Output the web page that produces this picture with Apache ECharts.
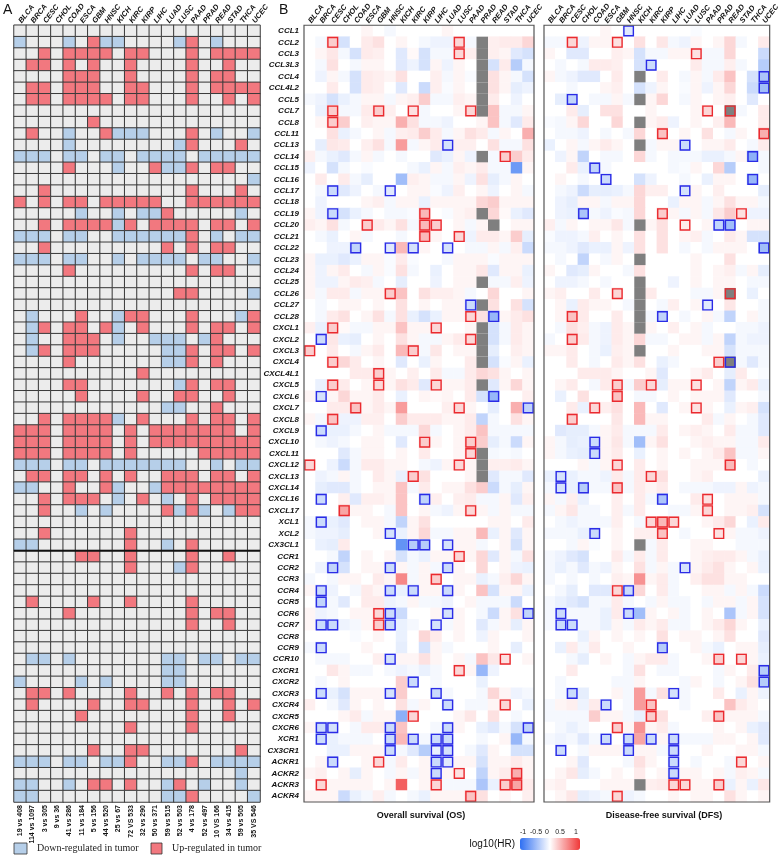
<!DOCTYPE html>
<html><head><meta charset="utf-8">
<script src="https://cdn.jsdelivr.net/npm/echarts@6/dist/echarts.min.js"></script>
<style>html,body{margin:0;padding:0;background:#fff}#c{width:782px;height:855px}</style>
</head><body><div id="c"></div><script>
const cancers = ['BLCA','BRCA','CESC','CHOL','COAD','ESCA','GBM','HNSC','KICH','KIRC','KIRP','LIHC','LUAD','LUSC','PAAD','PRAD','READ','STAD','THCA','UCEC'];
const sampleSizes = ['19 vs 408','114 vs 1097','3 vs 305','9 vs 36','41 vs 286','11 vs 184','5 vs 156','44 vs 520','25 vs 67','72 VS 533','32 vs 290','50 vs 371','59 vs 515','52 vs 503','4 vs 178','52 vs 497','10 VS 166','34 vs 415','59 vs 505','35 VS 546'];
const genes = ['CCL1','CCL2','CCL3','CCL3L3','CCL4','CCL4L2','CCL5','CCL7','CCL8','CCL11','CCL13','CCL14','CCL15','CCL16','CCL17','CCL18','CCL19','CCL20','CCL21','CCL22','CCL23','CCL24','CCL25','CCL26','CCL27','CCL28','CXCL1','CXCL2','CXCL3','CXCL4','CXCL4L1','CXCL5','CXCL6','CXCL7','CXCL8','CXCL9','CXCL10','CXCL11','CXCL12','CXCL13','CXCL14','CXCL16','CXCL17','XCL1','XCL2','CX3CL1','CCR1','CCR2','CCR3','CCR4','CCR5','CCR6','CCR7','CCR8','CCR9','CCR10','CXCR1','CXCR2','CXCR3','CXCR4','CXCR5','CXCR6','XCR1','CX3CR1','ACKR1','ACKR2','ACKR3','ACKR4'];
const colorbarTicks = ['-1','-0.5','0','0.5','1'];

// Panel A: -1 down-regulated, 0 no change, 1 up-regulated (rows = genes, cols = cancers)
const exprA = [
[0,0,0,0,0,0,0,0,0,0,0,0,0,0,0,0,0,0,0,0],
[-1,0,0,0,-1,0,1,-1,-1,0,0,0,0,-1,1,0,-1,0,0,0],
[0,0,1,0,1,1,1,1,0,1,1,0,0,0,1,0,1,1,1,1],
[0,1,1,0,1,0,1,0,0,1,0,0,0,0,1,0,0,1,0,0],
[0,0,0,0,1,1,1,0,0,1,0,0,0,0,1,0,1,1,0,0],
[0,1,1,0,1,1,1,0,0,1,1,0,0,0,1,0,1,1,1,1],
[0,1,1,0,1,1,1,1,0,1,1,0,0,0,1,0,0,1,0,1],
[0,0,0,0,0,0,0,0,0,0,0,0,0,0,0,0,0,0,0,0],
[0,0,0,0,0,0,1,0,0,0,0,0,0,0,0,0,0,0,0,0],
[0,1,0,0,-1,0,0,1,-1,-1,-1,0,0,0,1,0,-1,0,0,-1],
[0,0,0,0,-1,0,0,0,0,0,0,0,0,-1,1,0,0,0,1,0],
[-1,-1,-1,0,-1,-1,0,-1,-1,0,-1,-1,-1,-1,0,-1,-1,-1,-1,-1],
[0,0,0,0,1,0,0,0,-1,0,0,1,-1,-1,1,0,1,1,0,0],
[0,0,0,0,0,0,0,0,0,0,0,0,0,0,0,0,0,0,0,-1],
[0,0,1,0,0,0,0,0,0,0,0,0,0,0,1,0,0,0,1,0],
[1,0,1,0,1,1,0,1,1,1,1,1,0,0,1,1,1,1,1,1],
[0,0,0,0,0,-1,0,0,-1,0,-1,-1,1,0,0,0,0,0,-1,0],
[0,0,1,0,1,1,1,1,-1,1,0,1,1,1,1,0,1,1,0,1],
[-1,-1,-1,0,-1,-1,0,0,-1,-1,-1,-1,-1,-1,1,0,-1,0,-1,-1],
[0,0,1,0,0,0,0,0,0,0,0,0,1,0,1,0,1,1,0,0],
[-1,-1,-1,0,-1,-1,0,0,-1,0,-1,-1,-1,-1,0,-1,-1,0,0,-1],
[0,0,0,0,1,0,0,0,0,0,0,0,0,0,1,0,1,1,0,0],
[0,0,0,0,0,0,0,0,0,0,0,0,0,0,0,0,0,0,0,0],
[0,0,0,0,0,0,0,0,0,0,0,0,0,1,1,0,0,0,0,-1],
[0,0,0,0,0,0,0,0,0,0,0,0,0,0,0,0,0,0,0,0],
[0,-1,0,0,0,1,0,0,-1,1,1,0,0,0,1,0,0,0,-1,1],
[0,-1,1,0,1,1,0,1,-1,0,1,0,0,0,1,0,1,1,0,1],
[0,-1,0,0,1,1,1,0,-1,0,0,-1,-1,-1,0,-1,1,0,0,0],
[0,-1,1,0,1,1,1,0,0,0,0,0,-1,-1,1,0,1,1,0,1],
[0,0,0,0,1,0,0,0,0,0,0,0,-1,-1,1,0,1,0,0,0],
[0,0,0,0,0,0,0,0,0,0,1,0,0,0,0,0,0,0,0,0],
[0,0,0,0,1,1,0,0,0,0,0,0,0,-1,1,0,1,1,0,0],
[0,0,0,0,0,1,0,0,0,0,1,0,0,1,1,0,0,1,0,0],
[0,0,0,0,0,0,0,0,0,0,0,0,-1,-1,0,0,1,0,0,0],
[0,0,1,0,1,1,1,1,-1,0,1,0,0,0,1,0,1,1,0,1],
[1,1,1,0,1,1,1,1,0,1,0,1,1,1,1,1,1,1,0,1],
[1,1,1,0,1,1,1,1,0,1,0,1,1,1,1,1,1,1,1,1],
[1,1,1,0,1,1,1,1,0,1,0,0,0,0,0,1,1,1,1,1],
[-1,-1,-1,0,-1,-1,0,-1,-1,-1,-1,-1,-1,-1,0,0,-1,0,-1,-1],
[0,1,1,0,1,1,0,1,0,1,0,0,1,1,1,0,1,1,0,1],
[-1,-1,0,0,1,0,0,1,-1,0,0,-1,1,1,1,1,1,1,1,1],
[0,0,1,0,1,1,1,0,-1,0,1,0,-1,0,1,0,1,1,1,1],
[0,0,1,0,0,-1,0,-1,0,0,0,0,1,-1,1,-1,0,-1,1,1],
[0,0,0,0,0,0,0,0,0,0,0,0,0,0,0,0,0,0,0,0],
[0,0,1,0,0,0,0,0,0,1,0,0,0,0,0,0,0,0,0,0],
[-1,-1,0,0,0,0,0,0,0,1,0,0,-1,0,1,0,0,0,0,0],
[0,0,0,0,0,1,1,0,0,1,0,0,0,0,1,0,0,1,0,0],
[0,0,0,0,0,0,0,0,0,1,0,0,0,-1,1,0,0,0,0,0],
[0,0,0,0,0,0,0,0,0,0,0,0,0,0,0,0,0,0,0,0],
[0,0,0,0,0,0,0,0,0,0,0,0,0,0,0,0,0,0,0,0],
[0,1,0,0,0,0,1,0,0,1,0,0,0,0,1,0,0,0,0,0],
[0,0,0,0,1,0,0,0,0,0,0,0,0,0,1,0,1,1,0,0],
[0,0,0,0,0,0,0,0,0,0,0,0,0,0,1,0,0,1,0,0],
[0,0,0,0,0,0,0,0,0,0,0,0,0,0,0,0,0,0,0,0],
[0,0,0,0,0,0,0,0,0,0,0,0,0,0,0,0,0,0,0,0],
[0,-1,-1,0,-1,0,0,0,0,0,0,0,-1,-1,0,-1,-1,0,-1,-1],
[0,0,0,0,0,0,0,0,0,0,0,0,-1,-1,0,0,0,0,0,0],
[-1,0,0,0,0,-1,0,-1,0,0,0,0,-1,-1,0,0,0,0,0,0],
[0,1,1,0,1,0,0,0,0,1,0,0,1,0,1,0,1,1,0,0],
[0,1,0,0,0,0,1,0,0,1,1,0,0,0,1,0,0,1,0,1],
[0,0,0,0,0,1,0,0,0,0,0,0,0,0,1,0,0,1,0,0],
[0,0,0,0,0,0,0,0,0,1,0,0,0,0,1,0,0,0,0,0],
[0,0,0,0,0,0,0,0,0,0,0,0,0,0,0,0,0,0,0,0],
[0,0,0,0,0,0,1,0,0,1,1,0,0,0,0,0,0,0,1,0],
[-1,-1,-1,0,-1,-1,0,-1,-1,1,0,0,-1,-1,1,0,-1,-1,-1,-1],
[0,0,0,0,0,0,0,0,0,0,0,0,0,0,0,0,0,0,-1,0],
[-1,-1,0,0,-1,0,1,1,0,1,0,0,-1,1,0,-1,0,0,-1,0],
[-1,-1,0,0,0,0,0,0,0,0,0,0,-1,-1,1,0,0,0,0,-1]
];

// Panel B: log10(HR), null = not available
const osHR = [
[0,0,0,0,0,.05,0,-.05,0,0,0,0,.05,0,0,0,0,0,0,0],
[0,-.05,.25,-.2,0,.1,.15,0,.05,0,-.05,-.08,-.08,.2,-.05,null,.08,.1,.1,.2],
[0,.05,.12,-.05,-.2,.1,.08,0,-.15,.03,-.2,-.05,-.05,.2,.08,null,.08,.05,-.15,-.2],
[0,-.05,.15,0,-.05,.05,.05,0,-.15,-.08,-.2,.05,-.08,.05,0,null,-.2,.1,-.35,-.05],
[0,-.08,.05,-.05,-.2,.1,.08,.05,.15,0,0,.08,-.05,.05,-.03,null,.15,.05,-.05,-.2],
[0,0,.1,0,-.2,.1,.08,0,-.15,0,-.25,.08,-.03,.05,0,null,.15,.05,-.12,-.08],
[-.05,-.08,-.2,-.1,-.05,.05,.05,-.05,.05,.08,.25,-.05,-.05,.08,.05,null,.1,0,-.08,0],
[0,-.1,.25,-.05,-.05,.1,.25,.08,0,.15,-.05,0,0,.05,.2,null,.3,-.05,-.05,.05],
[0,.05,.25,.25,0,.08,.05,.05,.4,.15,-.05,-.05,-.08,0,0,.05,.3,-.05,-.15,.1],
[0,0,.15,-.1,-.05,0,.05,-.05,.08,.1,.25,.1,-.05,.05,.15,.1,-.05,.05,0,.4],
[0,-.12,.12,.1,0,.08,.15,-.05,.5,-.05,.05,.1,-.2,.08,.08,0,.15,-.05,-.05,.15],
[.08,-.05,-.1,-.15,-.05,.05,-.05,0,-.05,0,0,-.15,-.1,.05,-.08,null,-.05,.25,.25,.1],
[-.08,0,-.2,-.05,0,-.03,0,0,0,-.05,-.1,.05,-.05,.08,.05,.1,-.05,-.05,-.7,.05],
[0,.1,0,.1,-.05,-.12,0,0,-.45,.08,.05,-.05,-.05,.05,-.08,.15,-.12,-.05,.05,0],
[0,-.05,-.25,-.15,-.08,0,-.05,-.15,0,.05,.05,-.03,-.08,.08,0,.05,-.08,0,.05,-.05],
[0,-.08,0,0,0,.05,.08,-.05,.05,.05,-.1,.05,.05,.05,.05,.2,.25,.05,.05,.05],
[.05,-.08,-.25,-.2,-.1,-.05,0,-.05,-.05,-.03,.35,0,-.03,.05,.08,null,.2,.03,-.1,-.15],
[.08,.05,.15,-.05,0,.25,.1,.05,.15,-.05,.35,.25,0,.05,-.05,.05,null,0,.05,.05],
[0,-.05,-.1,0,.05,-.05,0,0,-.05,0,.35,.05,0,.2,-.08,.1,.1,.05,.25,-.12],
[0,0,-.08,-.08,-.3,0,0,-.15,.35,-.2,.05,0,-.2,0,-.05,-.05,.05,-.05,.08,-.25],
[.05,-.1,-.1,-.15,-.1,.05,.05,-.03,.1,-.03,0,0,-.05,.05,.05,.05,-.03,.05,.05,.05],
[.05,-.08,.05,.1,0,-.05,.05,-.03,.15,-.05,0,-.1,0,.05,.05,.12,-.15,.05,.05,-.1],
[.05,-.08,-.08,.05,.1,.08,-.05,0,-.12,0,0,-.08,0,.05,.05,null,-.05,-.05,.08,-.08],
[.05,-.05,.1,.1,-.05,.05,.05,.25,.3,0,.15,.08,.08,.05,-.05,0,.2,0,0,.05],
[0,-.05,0,.05,.05,0,.05,0,.15,0,.05,0,.05,.05,-.25,null,.15,0,.15,-.2],
[0,-.05,.1,.15,0,.05,.15,-.05,.15,-.1,-.2,-.1,.05,.05,.2,.15,-.5,.05,.1,.15],
[.08,-.1,.25,.03,-.05,-.05,.05,.05,.3,.05,.05,.2,0,0,.05,null,-.2,-.05,.1,.05],
[0,-.25,.12,-.1,-.12,0,.05,0,.15,.05,-.05,-.05,.05,.1,.2,null,-.2,-.05,.1,.05],
[.25,0,.1,0,-.05,.05,.1,0,.35,.25,-.05,.12,0,.05,.05,null,-.12,0,.08,.05],
[0,0,.25,.2,.1,0,.05,0,-.15,0,-.1,.05,0,0,.1,null,-.2,-.03,.05,-.1],
[0,0,0,0,.1,.1,.25,.05,0,.08,0,.1,-.05,-.05,.1,.2,.15,.05,0,.05],
[0,-.1,.25,.1,0,.05,.2,.05,.15,.1,-.15,.2,.05,.05,.1,null,-.15,.05,.2,.05],
[.05,-.2,.05,.2,.05,.05,.1,0,-.1,0,.05,.03,.05,0,.1,-.2,-.5,0,0,.08],
[0,0,.1,.1,.3,.05,.1,.05,.5,0,0,0,.08,.2,.05,0,-.12,0,.4,-.3],
[.05,-.05,.3,-.08,-.08,.08,.08,0,.25,.1,.1,.1,.05,.05,.1,-.3,-.05,0,.15,.05],
[0,-.25,-.1,-.1,-.05,0,.05,-.05,-.05,-.05,.2,-.05,0,.05,.1,.3,-.05,-.05,-.05,-.05],
[0,-.05,-.08,-.05,0,.05,.05,0,-.15,0,.25,.05,0,.05,.25,.25,-.12,-.05,-.25,.05],
[0,0,0,-.15,-.05,.05,.05,0,.05,0,.1,0,0,.05,.2,null,-.05,-.03,-.05,0],
[.2,0,-.08,-.25,-.05,.1,.1,.05,.05,0,-.05,-.08,.05,.2,.05,null,.08,.08,.1,.05],
[0,-.08,-.05,.05,-.05,0,.1,.05,-.1,.25,.15,0,0,0,.05,null,-.15,-.05,-.05,-.15],
[0,-.12,-.15,-.15,-.05,0,.05,.05,.3,-.05,.1,0,.05,.05,.15,.25,-.25,-.05,-.12,.05],
[0,-.25,0,.08,-.15,.08,.08,.05,.3,0,-.3,.08,0,.08,.1,-.05,-.05,.05,-.15,.08],
[0,0,0,.45,.05,.05,0,-.05,.3,0,.05,-.05,-.08,.05,.2,.05,-.05,.05,-.05,-.05],
[-.05,-.25,-.1,-.15,0,.05,.05,-.05,-.3,.05,.15,0,0,0,0,0,.05,.05,0,.1],
[-.05,-.08,-.08,-.12,0,0,.05,-.2,-.1,.05,.2,-.05,-.05,.05,.05,.35,-.1,.05,-.15,.05],
[0,-.1,-.12,.1,0,0,0,0,-.75,-.35,-.35,0,-.2,.05,.05,-.05,0,.05,-.2,.05],
[0,0,-.05,-.3,0,.05,0,.05,-.2,-.05,-.1,.05,.05,.2,.05,.2,-.15,.05,-.05,.15],
[0,-.08,-.3,-.2,0,.05,.05,-.25,.05,-.05,.05,-.05,-.25,.05,0,.2,0,.05,-.08,-.1],
[-.05,0,-.05,.05,.05,0,.1,.05,.6,-.05,.05,.25,0,.05,.05,-.1,-.05,.08,.2,.05],
[.05,-.25,-.08,0,-.05,.1,.05,-.25,-.1,-.25,.05,.05,-.25,.05,0,.3,-.2,.05,.05,-.1],
[0,-.3,-.05,-.15,0,.1,.1,-.08,-.05,.05,-.05,-.05,-.08,0,.05,-.05,-.05,-.05,-.25,0],
[.05,-.08,-.05,0,.05,.05,.2,-.25,-.25,0,0,.05,-.2,.05,0,-.05,-.25,.05,.15,-.3],
[.05,-.25,-.25,-.08,-.05,.05,.25,-.25,-.1,-.05,0,-.2,-.05,.05,0,-.15,-.05,.05,-.12,.05],
[0,0,0,0,-.03,0,.05,0,-.1,0,.2,.1,0,.05,0,-.08,.05,0,0,.05],
[-.05,-.25,0,0,0,.05,0,0,-.12,0,-.2,.05,-.05,0,0,0,.05,0,-.12,0],
[0,-.05,-.05,-.05,0,0,.08,-.2,.05,.05,.15,.05,0,.05,-.05,.3,.12,.15,0,.05],
[0,0,.12,.05,-.05,-.05,0,-.05,-.08,-.05,-.1,-.05,0,.2,.05,-.5,-.08,0,0,0],
[0,-.05,0,.05,0,0,0,0,.25,-.25,0,-.05,0,0,0,-.1,0,0,0,0],
[0,-.25,-.1,-.2,.05,.05,.05,-.2,.25,0,0,-.25,-.05,0,0,-.05,.2,.05,-.08,-.05],
[.08,0,-.05,-.15,.05,0,.05,0,.15,-.05,.05,0,-.25,0,-.05,-.05,.05,.2,0,-.1],
[0,0,0,.05,.1,-.05,.05,.05,-.55,.2,0,0,0,.05,.12,0,.15,0,-.05,0],
[.05,-.25,-.2,0,-.05,.1,.1,-.25,.3,0,0,-.05,-.25,.05,0,-.1,-.15,-.05,-.2,-.3],
[0,-.25,-.1,-.05,-.05,-.05,0,-.25,.35,-.25,-.05,-.25,-.25,0,0,-.05,0,.05,-.5,-.05],
[0,0,-.1,-.1,.05,.05,.05,-.25,-.05,-.15,-.35,-.1,-.2,0,-.05,-.15,.05,0,-.2,-.2],
[0,.05,-.25,0,0,.05,.2,-.05,.1,0,.05,-.25,-.15,.05,.05,-.2,.05,.05,.1,.05],
[.05,.08,0,.05,-.12,.05,0,-.05,.05,-.05,.05,-.25,.05,.15,0,-.3,.05,.1,.4,.05],
[0,.2,.05,.05,.05,.05,0,.05,.8,0,.05,.2,-.05,-.05,-.05,-.4,-.1,.25,.45,.1],
[.05,.05,.05,-.25,-.1,-.05,.08,-.05,0,-.05,-.1,.05,.05,.05,.3,.15,0,.05,0,.08]
];

const dfsHR = [
[0,0,0,0,0,.05,0,-.15,0,0,0,0,0,-.03,0,0,0,0,0,0],
[-.05,-.05,.2,-.08,.05,.05,.15,0,.15,0,.12,-.05,-.08,.05,0,.05,.2,-.05,0,.1],
[.05,0,-.15,-.15,0,0,.08,.05,-.2,-.05,-.05,.05,.05,.15,-.05,-.05,.2,0,0,-.25],
[0,-.05,0,-.05,.1,.1,.08,0,-.2,-.25,0,0,0,.1,-.05,-.05,.08,-.05,0,-.35],
[.05,-.05,-.08,-.15,-.15,0,.1,0,null,0,.1,0,-.05,.05,-.05,.1,.3,0,-.2,-.4],
[0,0,-.05,0,0,.05,.08,0,-.2,-.08,.05,0,-.03,.05,-.08,.05,.2,0,-.25,-.45],
[0,-.12,-.3,0,-.05,-.05,.05,-.05,null,.05,.2,0,-.05,.05,0,.05,.08,0,-.15,0],
[0,0,.1,-.12,0,.15,.15,0,0,.05,0,0,0,.05,.2,0,null,-.05,0,.1],
[-.03,-.05,.05,.2,0,0,.2,0,null,.05,.1,-.08,0,.05,0,.08,.35,0,0,.1],
[0,-.05,-.05,-.08,0,-.05,0,-.05,.2,0,.3,0,.05,0,.15,0,-.05,.05,0,.4],
[-.1,0,.05,-.05,.05,.1,.05,0,null,-.05,.05,.05,-.25,0,.05,.05,.1,0,-.05,.1],
[0,-.08,.05,-.3,0,-.05,-.05,0,.2,-.05,0,-.05,-.05,-.05,-.1,-.1,-.05,.05,-.55,-.05],
[0,0,.1,-.1,-.3,-.05,0,0,0,0,0,-.05,-.03,.05,0,.2,-.35,0,0,-.05],
[0,.05,0,-.05,0,-.25,0,0,-.2,-.08,0,0,-.05,0,-.1,.05,.05,0,-.5,0],
[0,-.05,-.08,-.25,-.12,-.12,-.1,-.05,.2,.08,.08,0,-.2,.05,0,.08,0,0,0,-.12],
[0,-.08,-.12,.05,.05,-.05,.05,.05,.2,0,0,-.1,.05,.05,-.05,.05,.15,.05,.05,-.05],
[0,-.08,-.1,-.4,-.05,-.08,-.03,-.05,.2,0,.25,.05,-.05,.05,-.05,.12,.25,.15,-.08,-.08],
[.08,-.05,.05,0,.05,.05,.12,-.05,null,.05,.15,0,.1,0,.05,-.3,-.45,0,.05,.05],
[-.03,-.08,-.08,-.05,.08,0,.05,0,.15,0,.15,0,.05,.08,-.05,0,.1,.05,-.2,-.2],
[-.05,-.05,-.08,-.15,-.1,-.1,.05,-.08,.15,0,.15,0,-.05,0,-.05,.05,.05,.05,0,-.45],
[0,-.05,0,-.3,0,-.05,.05,0,null,0,0,0,0,.05,0,0,.15,0,0,0],
[.05,0,-.15,-.12,.05,0,0,-.05,.15,0,0,0,0,.05,0,.05,.08,-.05,.05,-.12],
[0,-.08,-.08,-.05,0,-.05,0,0,null,0,0,-.08,0,.05,0,.05,.05,0,-.05,-.05],
[.05,.08,0,0,.1,0,.2,0,null,.1,0,0,0,-.05,-.05,.05,null,0,-.1,0],
[0,.05,-.1,.1,.05,.05,0,-.05,null,0,-.05,.08,0,.05,-.15,0,.12,0,0,-.05],
[0,.05,.3,.1,0,0,.1,0,null,-.05,-.3,0,-.05,0,.05,-.05,-.3,0,.05,-.05],
[0,-.05,.15,.08,-.05,-.08,.1,.05,null,.05,0,.08,0,.05,-.05,0,0,-.05,-.05,-.08],
[-.05,0,.25,.1,-.05,-.08,.1,.05,.2,-.05,-.05,0,.05,.05,-.05,.05,-.3,-.05,-.08,-.08],
[.05,.05,.1,0,-.05,-.1,.08,.05,null,0,0,.05,0,0,.05,.05,-.2,-.05,-.05,-.05],
[0,0,.1,0,-.05,0,.1,.05,.15,0,-.1,-.05,0,0,0,.25,null,-.05,-.15,-.05],
[0,0,0,.1,.1,.1,.05,0,0,.05,-.15,0,0,.05,.1,0,-.12,.1,0,-.03],
[0,.05,.1,0,-.05,.1,.25,-.05,.25,.2,-.12,.05,.05,.15,0,.05,-.3,.05,.1,-.1],
[0,-.1,0,.15,0,0,.3,0,-.05,-.05,0,.05,0,.05,.05,.05,-.15,0,0,-.05],
[0,0,.1,-.1,.2,.08,.15,0,.35,0,-.15,0,.05,.15,.05,0,-.1,.05,.08,-.2],
[0,0,.25,0,0,0,.12,0,.35,.05,.05,0,0,0,.1,-.05,.05,0,-.05,-.15],
[0,-.15,-.12,-.12,-.05,.05,.1,-.05,-.05,-.05,.1,0,.05,.08,.05,0,.1,-.05,-.05,-.15],
[.05,-.05,-.12,-.1,-.25,.05,.12,-.05,-.45,.05,.15,0,0,.05,.08,.05,.05,-.05,-.05,.1],
[.05,-.05,-.1,-.12,-.25,.05,.1,0,-.1,0,.05,0,.05,0,.05,.1,.3,-.05,-.05,.05],
[0,0,0,.05,-.05,.05,.2,0,.1,0,.05,0,0,.05,.05,.05,.35,0,-.05,0],
[-.1,-.2,-.1,-.05,-.05,-.08,.1,-.05,.1,.2,.15,0,0,.05,.08,0,0,0,0,-.1],
[-.05,-.2,-.1,-.35,-.05,-.05,.3,-.05,.1,.05,.1,0,-.05,-.05,-.05,-.08,-.08,.05,-.08,-.05],
[.05,-.05,.08,-.1,0,0,.08,0,.1,-.05,-.4,0,0,.1,.15,0,.05,.05,.05,-.05],
[-.05,.05,.12,-.05,-.05,0,.08,-.05,.1,0,0,-.05,-.05,.05,.2,0,.05,.05,.08,-.2],
[0,-.05,-.08,-.05,-.05,-.05,.08,0,-.05,.2,.35,.2,0,0,.05,.1,.2,0,-.1,.1],
[-.05,-.05,-.05,-.1,-.25,0,.05,0,.08,.08,.3,0,-.05,0,0,.15,.05,-.05,-.05,-.08],
[0,0,-.05,.05,-.03,0,.05,0,null,-.05,.1,0,0,.05,.05,0,0,-.05,-.05,-.05],
[-.05,-.08,-.15,-.2,0,0,.1,-.05,.1,-.05,.1,0,0,.05,.08,.1,.1,.05,-.05,-.1],
[-.05,-.1,-.05,-.15,-.05,-.08,.05,0,.15,-.05,.05,-.05,-.2,.05,.1,.15,.05,0,.05,-.1],
[-.05,0,-.05,0,-.05,0,.08,.05,.55,.05,.1,-.05,0,.08,.15,.15,.05,.05,0,0],
[0,-.05,-.12,0,-.15,-.15,.2,-.25,.2,0,.1,-.05,0,0,.05,.05,-.05,.05,-.05,-.25],
[-.05,-.1,-.15,-.2,-.05,-.05,.1,-.05,0,-.05,.05,-.05,-.05,0,-.05,.05,.05,-.05,.05,-.2],
[-.05,-.25,-.05,-.05,-.05,-.1,.1,-.25,-.45,.05,0,.05,-.05,0,.05,0,-.4,-.05,.05,-.2],
[-.05,-.25,-.25,-.05,-.05,-.1,.05,-.05,.1,.05,.1,-.05,-.05,0,.05,.1,.2,.05,0,-.1],
[0,0,0,-.1,.05,0,.05,0,.05,0,.15,0,.05,.05,0,.05,.15,0,0,-.15],
[0,-.1,.1,-.05,.1,0,0,.05,0,0,-.35,0,0,.05,-.05,-.1,0,.05,.05,-.12],
[0,0,-.05,-.12,0,.05,0,-.05,.05,.1,.1,-.05,0,0,.05,.25,0,.2,.05,-.1],
[0,0,.1,0,0,0,0,-.05,.15,0,-.05,-.05,0,0,0,-.05,.05,0,.1,-.35],
[0,-.05,0,0,0,0,-.05,-.05,.05,0,0,0,-.05,.05,0,-.05,0,.05,.15,-.35],
[0,-.05,-.25,-.12,0,0,.05,-.05,.5,-.05,.15,-.2,-.05,0,0,.1,0,-.1,.05,-.08],
[-.05,.05,.08,-.08,.1,-.25,0,-.05,.5,.3,0,0,-.05,0,0,0,.3,.1,.05,0],
[-.05,-.05,-.05,-.05,.25,.05,.05,-.05,-.1,.25,.15,0,0,0,.08,.3,.05,.05,.05,-.05],
[0,-.05,-.1,-.05,0,0,.25,.05,.55,.05,.1,-.05,0,0,0,.05,0,.05,-.1,-.15],
[-.05,-.08,-.05,-.15,-.05,-.25,0,-.25,.45,-.25,.05,-.25,-.05,-.05,-.05,.05,.05,0,.05,-.15],
[0,-.25,0,-.05,.05,.05,.05,-.25,.05,.05,-.05,-.25,0,0,.05,0,0,.05,.05,-.05],
[0,0,.05,-.15,0,0,0,-.05,.15,.05,0,-.25,0,-.05,0,0,-.05,.2,0,.05],
[0,.05,.12,-.12,-.05,0,.05,0,.1,0,.05,-.25,.05,.05,0,.05,-.05,.08,.05,-.05],
[.05,.08,0,0,0,.05,.05,.05,null,.08,.1,.2,.2,.05,.05,.25,-.1,.05,-.1,.12],
[0,.05,.12,-.12,-.08,-.05,.2,-.08,-.05,0,0,.05,0,.05,.05,0,.15,.05,0,.05]
];

// Significant cells: [cancerIndex, geneIndex, direction(+1 HR>1, -1 HR<1)]
const osSig = [
[2,1,1],[13,1,1],[13,2,1],[2,7,1],[6,7,1],[9,7,1],[14,7,1],[2,8,1],[12,10,-1],[17,11,1],
[2,14,-1],[7,14,-1],[2,16,-1],[10,16,1],[5,17,1],[10,17,1],[11,17,1],[10,18,1],[13,18,1],
[4,19,-1],[7,19,-1],[9,19,-1],[12,19,-1],[7,23,1],[14,24,-1],[14,25,1],[16,25,-1],[2,26,1],[11,26,1],
[1,27,-1],[14,27,1],[0,28,1],[9,28,1],[2,29,1],[6,30,1],[2,31,1],[6,31,1],[11,31,1],[1,32,-1],[16,32,-1],
[4,33,1],[13,33,1],[19,33,-1],[2,34,1],[1,35,-1],[10,36,1],[14,36,1],[14,37,1],[0,38,1],[13,38,1],
[9,39,1],[1,41,-1],[10,41,-1],[3,42,1],[14,42,1],[1,43,-1],[7,44,-1],[9,45,-1],[10,45,-1],[12,45,-1],
[13,46,1],[2,47,-1],[7,47,-1],[12,47,-1],[11,48,1],[1,49,-1],[7,49,-1],[9,49,-1],[12,49,-1],[1,50,-1],
[6,51,1],[7,51,-1],[12,51,-1],[19,51,-1],[1,52,-1],[2,52,-1],[6,52,1],[7,52,-1],[11,52,-1],[1,54,-1],
[7,55,-1],[17,55,1],[13,56,1],[9,57,-1],[1,58,-1],[7,58,-1],[11,58,-1],[12,59,-1],[17,59,1],[9,60,1],
[1,61,-1],[2,61,-1],[7,61,-1],[12,61,-1],[19,61,-1],[1,62,-1],[7,62,-1],[9,62,-1],[11,62,-1],[12,62,-1],
[7,63,-1],[11,63,-1],[12,63,-1],[2,64,-1],[6,64,1],[11,64,-1],[12,64,-1],[11,65,-1],[13,65,1],[18,65,1],
[1,66,1],[11,66,1],[17,66,1],[18,66,1],[14,67,1]
];
const dfsSig = [
[7,0,-1],[2,1,1],[6,1,1],[13,2,1],[9,3,-1],[19,4,-1],[19,5,-1],[2,6,-1],[14,7,1],[16,7,1],
[10,9,1],[19,9,1],[12,10,-1],[18,11,-1],[4,12,-1],[5,13,-1],[18,13,-1],[12,14,-1],[3,16,-1],[10,16,1],
[17,16,1],[12,17,1],[15,17,-1],[16,17,-1],[19,19,-1],[6,23,1],[16,23,1],[14,24,-1],[2,25,1],[10,25,-1],
[2,27,1],[15,29,1],[16,29,-1],[6,31,1],[9,31,1],[13,31,1],[6,32,1],[4,33,1],[13,33,1],[2,34,1],
[4,36,-1],[4,37,-1],[6,38,1],[16,38,1],[1,39,-1],[9,39,1],[1,40,-1],[3,40,-1],[6,40,1],[10,41,-1],
[14,41,1],[14,42,1],[9,43,1],[10,43,1],[11,43,1],[4,44,-1],[10,44,1],[15,44,1],[12,47,-1],[6,49,1],
[7,49,-1],[1,51,-1],[7,51,-1],[1,52,-1],[2,52,-1],[10,54,-1],[15,55,1],[17,55,1],[19,56,-1],[19,57,-1],
[2,58,-1],[11,58,-1],[5,59,-1],[9,59,1],[9,60,1],[15,60,1],[6,61,1],[5,62,-1],[7,62,-1],[9,62,-1],
[11,62,-1],[1,63,-1],[7,63,-1],[11,63,-1],[11,64,-1],[17,64,1],[11,65,-1],[11,66,1],[12,66,1],[15,66,1],
[6,67,1]
];

const BLUE_A = '#b6cfe9', RED_A = '#f2787f', GRAY_A = '#ececec';
const FONT = '"Liberation Sans", Arial, sans-serif';

function toCells(mat){ const out=[]; mat.forEach((row,r)=>row.forEach((v,c)=>{ if(v!==null) out.push([c,r,v]); })); return out; }
function toNA(mat){ const out=[]; mat.forEach((row,r)=>row.forEach((v,c)=>{ if(v===null) out.push([c,r]); })); return out; }

function naRender(params, api){
  const p = api.coord([api.value(0), api.value(1)]); const s = api.size([1,1]);
  return {type:'rect', shape:{x:p[0]-s[0]/2, y:p[1]-s[1]/2, width:s[0], height:s[1]}, style:{fill:'#7f7f7f'}};
}
function boxRender(params, api){
  const p = api.coord([api.value(0), api.value(1)]); const s = api.size([1,1]);
  const up = api.value(2) > 0;
  return {type:'rect', shape:{x:p[0]-s[0]/2+0.9, y:p[1]-s[1]/2+0.9, width:s[0]-1.8, height:s[1]-1.8},
    style:{fill:'none', stroke: up ? '#ea2a2f' : '#2b2be6', lineWidth:1.4}};
}
function frameRender(params, api){
  const cs = params.coordSys;
  return {type:'rect', shape:{x:cs.x, y:cs.y, width:cs.width, height:cs.height}, style:{fill:'none', stroke:'#555', lineWidth:1.2}};
}
function sepRender(params, api){
  const cs = params.coordSys;
  const p = api.coord([0, api.value(1)]); const s = api.size([1,1]);
  const y = p[1] + s[1]/2;
  return {type:'line', shape:{x1:cs.x, y1:y, x2:cs.x+cs.width, y2:y}, style:{stroke:'#111', lineWidth:2}};
}

const topLabel = {interval:0, rotate:-52, align:'left', verticalAlign:'middle', fontSize:7.5, fontWeight:'bold', fontStyle:'italic', fontFamily:FONT, color:'#111', margin:3};
const GT = 24, GH = 778;

const chart = echarts.init(document.getElementById('c'));
chart.setOption({
  animation:false,
  backgroundColor:'#fff',
  grid:[
    {left:14, top:GT, width:246, height:GH},
    {left:304, top:GT, width:230, height:GH},
    {left:544, top:GT, width:230, height:GH}
  ],
  xAxis:[
    {gridIndex:0, type:'category', data:cancers, position:'top', axisLine:{show:false}, axisTick:{show:false}, axisLabel:topLabel, splitLine:{show:false}},
    {gridIndex:0, type:'category', data:sampleSizes, position:'bottom', axisLine:{show:false}, axisTick:{show:false},
      axisLabel:{interval:0, rotate:90, fontSize:7, fontWeight:'bold', fontFamily:FONT, color:'#111', margin:3}},
    {gridIndex:1, type:'category', data:cancers, position:'top', axisLine:{show:false}, axisTick:{show:false}, axisLabel:topLabel},
    {gridIndex:2, type:'category', data:cancers, position:'top', axisLine:{show:false}, axisTick:{show:false}, axisLabel:topLabel}
  ],
  yAxis:[
    {gridIndex:0, type:'category', data:genes, inverse:true, show:false},
    {gridIndex:1, type:'category', data:genes, inverse:true, axisLine:{show:false}, axisTick:{show:false},
      axisLabel:{interval:0, fontSize:8, fontWeight:'bold', fontStyle:'italic', fontFamily:FONT, color:'#111', margin:5}},
    {gridIndex:2, type:'category', data:genes, inverse:true, show:false}
  ],
  visualMap:[
    {type:'piecewise', show:false, seriesIndex:0, pieces:[{value:-1, color:BLUE_A},{value:0, color:GRAY_A},{value:1, color:RED_A}]},
    {type:'continuous', seriesIndex:[1,2], min:-1, max:1, orient:'horizontal', left:520, top:838, padding:0,
      itemWidth:12, itemHeight:60, text:['',''], calculable:false, hoverLink:false, realtime:false,
      inRange:{color:['#2f6ff2','#ffffff','#f03838']}}
  ],
  series:[
    {type:'heatmap', xAxisIndex:0, yAxisIndex:0, data:toCells(exprA), itemStyle:{borderColor:'#3a3a3a', borderWidth:1}, emphasis:{disabled:true}},
    {type:'heatmap', xAxisIndex:2, yAxisIndex:1, data:toCells(osHR), emphasis:{disabled:true}},
    {type:'heatmap', xAxisIndex:3, yAxisIndex:2, data:toCells(dfsHR), emphasis:{disabled:true}},
    {type:'custom', xAxisIndex:2, yAxisIndex:1, data:toNA(osHR), renderItem:naRender, encode:{x:0,y:1}, z:3, silent:true},
    {type:'custom', xAxisIndex:3, yAxisIndex:2, data:toNA(dfsHR), renderItem:naRender, encode:{x:0,y:1}, z:3, silent:true},
    {type:'custom', xAxisIndex:2, yAxisIndex:1, data:osSig, renderItem:boxRender, encode:{x:0,y:1}, z:5, silent:true},
    {type:'custom', xAxisIndex:3, yAxisIndex:2, data:dfsSig, renderItem:boxRender, encode:{x:0,y:1}, z:5, silent:true},
    {type:'custom', xAxisIndex:2, yAxisIndex:1, data:[[0,0]], renderItem:frameRender, encode:{x:0,y:1}, z:6, silent:true},
    {type:'custom', xAxisIndex:3, yAxisIndex:2, data:[[0,0]], renderItem:frameRender, encode:{x:0,y:1}, z:6, silent:true},
    {type:'custom', xAxisIndex:0, yAxisIndex:0, data:[[0, genes.indexOf('CX3CL1')]], renderItem:sepRender, encode:{x:0,y:1}, z:6, silent:true}
  ],
  graphic:[
    {type:'text', left:3, top:3, style:{text:'A', font:'14px '+FONT, fill:'#111'}},
    {type:'text', left:279, top:3, style:{text:'B', font:'14px '+FONT, fill:'#111'}},
    {type:'text', x:421, y:816, style:{text:'Overall survival (OS)', font:'bold 9px '+FONT, fill:'#111', textAlign:'center', textVerticalAlign:'middle'}},
    {type:'text', x:664, y:816, style:{text:'Disease-free survival (DFS)', font:'bold 9px '+FONT, fill:'#111', textAlign:'center', textVerticalAlign:'middle'}},
    {type:'text', x:515, y:844, style:{text:'log10(HR)', font:'10px '+FONT, fill:'#111', textAlign:'right', textVerticalAlign:'middle'}},
    ...colorbarTicks.map((t,i)=>({type:'text', x:[523,536,547,560,576][i], y:832, style:{text:t, font:'7px '+FONT, fill:'#222', textAlign:'center', textVerticalAlign:'middle'}})),
    {type:'rect', shape:{x:14, y:843, width:13, height:11}, style:{fill:BLUE_A, stroke:'#333', lineWidth:0.8}},
    {type:'text', x:37, y:848, style:{text:'Down-regulated in tumor', font:'10px "Liberation Serif", "Times New Roman", serif', fill:'#222', textVerticalAlign:'middle'}},
    {type:'rect', shape:{x:151, y:843, width:11, height:11}, style:{fill:RED_A, stroke:'#333', lineWidth:0.8}},
    {type:'text', x:172, y:848, style:{text:'Up-regulated in tumor', font:'10px "Liberation Serif", "Times New Roman", serif', fill:'#222', textVerticalAlign:'middle'}}
  ]
});
</script></body></html>
